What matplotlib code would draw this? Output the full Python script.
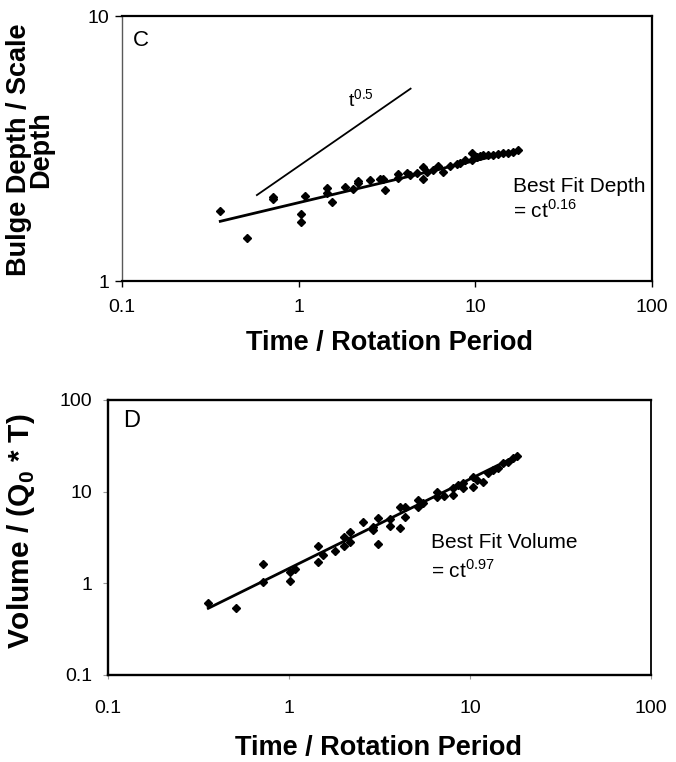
# -*- coding: utf-8 -*-
"""
Growth of the bulge with time, log-log axes.

Panel C : bulge depth / scale depth against time / rotation period
Panel D : bulge volume / (Q0 * T) against time / rotation period
"""

import matplotlib
matplotlib.use("Agg")
import matplotlib.pyplot as plt

# Panel C : depth points
depth_time = [0.359, 0.508, 0.718, 0.718, 1.026, 1.026, 1.081, 1.452, 1.452,
              1.537, 1.821, 2.037, 2.174, 2.174, 2.542, 2.885, 3.012, 3.09,
              3.634, 3.634, 4.085, 4.265, 4.655, 5.072, 5.072, 5.343, 5.776,
              6.166, 6.58, 7.18, 7.84, 8.18, 8.73, 9.53, 9.53, 10.17, 10.62,
              11.08, 11.83, 12.63, 13.48, 14.39, 15.35, 16.39, 17.5]
depth_value = [1.83, 1.45, 2.08, 2.04, 1.79, 1.67, 2.10, 2.24, 2.14,
               1.98, 2.27, 2.22, 2.39, 2.35, 2.40, 2.42, 2.42, 2.20,
               2.53, 2.44, 2.55, 2.51, 2.55, 2.70, 2.43, 2.58, 2.62,
               2.72, 2.58, 2.72, 2.76, 2.80, 2.86, 3.03, 2.86, 2.94, 2.96,
               2.98, 2.98, 3.00, 3.01, 3.03, 3.05, 3.08, 3.12]

# Best fit (= ct^0.16) and reference t^0.5 slope, end points
depth_fit_time = [0.36, 17.8]
depth_fit_value = [1.68, 3.12]
slope_time = [0.58, 4.3]
slope_value = [2.11, 5.32]

# Panel D : volume points
volume_time = [0.358, 0.508, 0.715, 0.715, 1.013, 1.013, 1.079, 1.441, 1.441,
               1.547, 1.796, 2.021, 2.021, 2.173, 2.173, 2.554, 2.90, 2.90,
               3.09, 3.09, 3.629, 3.629, 4.105, 4.105, 4.375, 4.375, 5.14,
               5.14, 5.52, 6.55, 6.55, 7.18, 8.09, 8.09, 8.62, 9.19, 9.19,
               10.35, 10.35, 10.97, 11.75, 12.62, 13.45, 14.33, 15.28, 16.28,
               17.35, 18.1]
volume_value = [0.615, 0.534, 1.625, 1.042, 1.34, 1.068, 1.433, 2.574, 1.722,
                2.037, 2.27, 3.227, 2.554, 3.604, 2.846, 4.63, 4.147, 3.817,
                5.2, 2.685, 5.03, 4.22, 6.75, 3.98, 6.75, 5.25, 8.11,
                6.75, 7.47, 10.0, 8.68, 8.97, 10.9, 9.19, 11.8, 12.3, 10.9,
                14.3, 11.2, 13.4, 12.8, 15.9, 17.2, 18.0, 20.4, 21.2,
                23.5, 24.5]

# Best fit (= ct^0.97), end points
volume_fit_time = [0.358, 18.1]
volume_fit_value = [0.534, 24.5]

# Tick labels
x_ticks = [0.1, 1, 10, 100]
x_tick_labels = ["0.1", "1", "10", "100"]
depth_ticks = [1, 10]
depth_tick_labels = ["1", "10"]
volume_ticks = [0.1, 1, 10, 100]
volume_tick_labels = ["0.1", "1", "10", "100"]

# Arial-like font everywhere, regular superscripts
plt.rcParams["font.family"] = "Liberation Sans"
plt.rcParams["mathtext.fontset"] = "custom"
plt.rcParams["mathtext.rm"] = "Liberation Sans"

fig = plt.figure(figsize=(6.76, 7.62), dpi=100)

# ---- Panel C ----
ax = fig.add_axes([0.1805, 0.6312, 0.784, 0.3478])
ax.set_xscale("log")
ax.set_yscale("log")
ax.set_xlim(0.1, 100)
ax.set_ylim(1, 10)

ax.plot(depth_time, depth_value, "D", color="black", markersize=3.6, ls="none")
ax.plot(depth_fit_time, depth_fit_value, color="black", lw=2.0)
ax.plot(slope_time, slope_value, color="black", lw=1.3)

ax.set_xticks(x_ticks)
ax.set_xticklabels(x_tick_labels)
ax.set_yticks(depth_ticks)
ax.set_yticklabels(depth_tick_labels)
ax.minorticks_off()
ax.tick_params(axis="x", direction="out", length=4, width=1, labelsize=14, pad=9)
ax.tick_params(axis="y", direction="out", length=5, width=1, labelsize=14, pad=4)

for side in ["top", "right", "bottom"]:
    ax.spines[side].set_linewidth(1.6)
ax.spines["left"].set_linewidth(1.0)
ax.spines["left"].set_color("0.35")

ax.text(0.021, 0.909, "C", transform=ax.transAxes, fontsize=16, va="center")
ax.text(0.427, 0.655, r"t$^{\mathregular{0.5}}$", transform=ax.transAxes,
        fontsize=14, va="baseline")
ax.text(0.7377, 0.337, "Best Fit Depth", transform=ax.transAxes,
        fontsize=15, va="baseline")
ax.text(0.7377, 0.237, r"= ct$^{\mathregular{0.16}}$", transform=ax.transAxes,
        fontsize=15, va="baseline")

ax.set_xlabel("Time / Rotation Period", fontsize=19.5, fontweight="bold")
ax.xaxis.set_label_coords(0.504, -0.185)
ax.set_ylabel("Bulge Depth / Scale\nDepth", fontsize=19.5, fontweight="bold",
              linespacing=0.8)
ax.yaxis.set_label_coords(-0.128, 0.494)

# ---- Panel D ----
ax = fig.add_axes([0.1598, 0.1142, 0.8033, 0.3609])
ax.set_xscale("log")
ax.set_yscale("log")
ax.set_xlim(0.1, 100)
ax.set_ylim(0.1, 100)

ax.plot(volume_time, volume_value, "D", color="black", markersize=3.6, ls="none")
ax.plot(volume_fit_time, volume_fit_value, color="black", lw=2.0)

ax.set_xticks(x_ticks)
ax.set_xticklabels(x_tick_labels)
ax.set_yticks(volume_ticks)
ax.set_yticklabels(volume_tick_labels)
ax.minorticks_off()
ax.tick_params(axis="x", direction="out", length=3, width=0.8, color="0.6",
               labelsize=14, pad=15)
ax.tick_params(axis="y", direction="out", length=3.5, width=0.8, color="0.6",
               labelsize=14, pad=8)

for side in ["top", "bottom", "left"]:
    ax.spines[side].set_linewidth(1.7)
ax.spines["right"].set_linewidth(1.3)

ax.text(0.028, 0.924, "D", transform=ax.transAxes, fontsize=17, va="center")
ax.text(0.5948, 0.461, "Best Fit Volume", transform=ax.transAxes,
        fontsize=15, va="baseline")
ax.text(0.5948, 0.352, r"= ct$^{\mathregular{0.97}}$", transform=ax.transAxes,
        fontsize=15, va="baseline")

ax.set_xlabel("Time / Rotation Period", fontsize=19.5, fontweight="bold")
ax.xaxis.set_label_coords(0.499, -0.22)
ax.set_ylabel(r"Volume / (Q$_{\mathregular{0}}$ * T)", fontsize=21.5,
              fontweight="bold")
ax.yaxis.set_label_coords(-0.13, 0.524)

plt.savefig("out.png", dpi=100)
